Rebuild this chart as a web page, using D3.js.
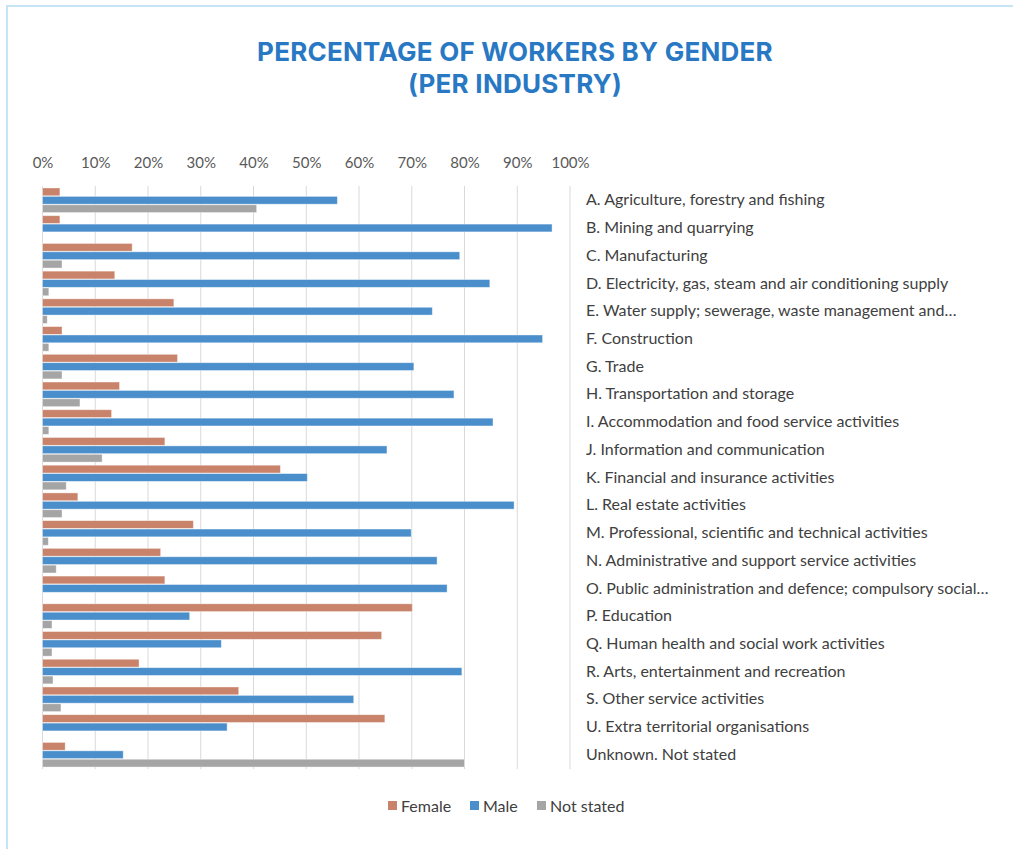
<!DOCTYPE html>
<html>
<head>
<meta charset="utf-8">
<script src="https://cdn.jsdelivr.net/npm/d3@7"></script>
<style>
  html, body { margin: 0; padding: 0; background: #fff; }
  svg { display: block; }
</style>
</head>
<body>
<svg id="chart" width="1013" height="849"></svg>
<script>
const industries = [
  "A. Agriculture, forestry and fishing",
  "B. Mining and quarrying",
  "C. Manufacturing",
  "D. Electricity, gas, steam and air conditioning supply",
  "E. Water supply; sewerage, waste management and…",
  "F. Construction",
  "G. Trade",
  "H. Transportation and storage",
  "I. Accommodation and food service activities",
  "J. Information and communication",
  "K. Financial and insurance activities",
  "L. Real estate activities",
  "M. Professional, scientific and technical activities",
  "N. Administrative and support service activities",
  "O. Public administration and defence; compulsory social…",
  "P. Education",
  "Q. Human health and social work activities",
  "R. Arts, entertainment and recreation",
  "S. Other service activities",
  "U. Extra territorial organisations",
  "Unknown. Not stated"
];

// percent values
const female    = [3.3, 3.3, 17.0, 13.7, 24.9, 3.7, 25.6, 14.6, 13.1, 23.2, 45.1, 6.7, 28.6, 22.4, 23.2, 70.1, 64.3, 18.3, 37.2, 64.9, 4.3];
const male      = [55.9, 96.6, 79.1, 84.8, 73.9, 94.8, 70.4, 78.0, 85.4, 65.3, 50.2, 89.4, 69.9, 74.8, 76.7, 27.9, 33.9, 79.5, 59.0, 35.0, 15.3];
const notStated = [40.6, 0, 3.7, 1.2, 0.9, 1.2, 3.7, 7.1, 1.2, 11.3, 4.5, 3.7, 1.1, 2.6, 0, 1.8, 1.8, 2.0, 3.5, 0, 80.0];

const seriesNames = ["Female", "Male", "Not stated"];
const seriesColors = ["#c9836a", "#4a8fcb", "#a5a5a5"];
const ticks = [0, 10, 20, 30, 40, 50, 60, 70, 80, 90, 100];

const svg = d3.select("#chart");

const plot = {left: 42.5, right: 570, top: 186, bottom: 769};

// light blue frame
svg.append("path")
  .attr("d", `M7,849 V6 H1013`)
  .attr("fill", "none")
  .attr("stroke", "#c7e4f6")
  .attr("stroke-width", 2);

// title
const title = svg.append("text")
  .attr("text-anchor", "middle")
  .attr("fill", "#2878c4")
  .attr("font-family", "Inter, Roboto, sans-serif")
  .attr("font-weight", 700)
  .attr("font-size", 26)
  .attr("letter-spacing", 0.25);
title.append("tspan").attr("x", 515).attr("y", 61).text("PERCENTAGE OF WORKERS BY GENDER");
title.append("tspan").attr("x", 515).attr("y", 93).text("(PER INDUSTRY)");

const x = d3.scaleLinear().domain([0, 100]).range([plot.left, plot.right]);
const y = d3.scaleBand().domain(industries).range([plot.top, plot.bottom])
  .paddingInner(0.09).paddingOuter(0.06);
const ySub = d3.scaleBand().domain(seriesNames).range([0, y.bandwidth()]);

// gridlines
svg.append("g")
  .selectAll("line")
  .data(ticks)
  .join("line")
  .attr("x1", d => x(d)).attr("x2", d => x(d))
  .attr("y1", plot.top).attr("y2", plot.bottom)
  .attr("stroke", "#d9d9d9")
  .attr("stroke-width", 1);

// top axis labels
const xAxis = d3.axisTop(x).tickValues(ticks).tickFormat(d => d + "%").tickSize(0).tickPadding(0);
const gx = svg.append("g").attr("transform", `translate(0,168)`).call(xAxis);
gx.select(".domain").remove();
gx.selectAll("text")
  .attr("fill", "#595959")
  .attr("font-family", "Lato, 'Open Sans', sans-serif")
  .attr("font-size", 15);

// bars
const rows = industries.map((name, i) => ({name, values: [female[i], male[i], notStated[i]]}));
const groups = svg.append("g")
  .selectAll("g")
  .data(rows)
  .join("g")
  .attr("transform", d => `translate(0,${y(d.name)})`);

groups.selectAll("rect")
  .data(d => d.values.map((v, j) => ({v, j})))
  .join("rect")
  .filter(d => d.v > 0)
  .attr("x", x(0))
  .attr("y", d => ySub(seriesNames[d.j]) + 0.3)
  .attr("width", d => x(d.v) - x(0))
  .attr("height", ySub.bandwidth() - 0.6)
  .attr("fill", d => seriesColors[d.j])
  .attr("stroke", "#ffffff")
  .attr("stroke-opacity", 0.5)
  .attr("stroke-width", 0.8);

// category labels on the right
const yAxis = d3.axisRight(y).tickSize(0).tickPadding(16);
const gy = svg.append("g").attr("transform", `translate(${plot.right},0)`).call(yAxis);
gy.select(".domain").remove();
gy.selectAll("text")
  .attr("fill", "#404040")
  .attr("font-family", "Lato, 'Open Sans', sans-serif")
  .attr("font-size", 16);

// legend
const legendX = [388, 470, 537];
const legend = svg.append("g")
  .selectAll("g")
  .data(seriesNames)
  .join("g")
  .attr("transform", (d, i) => `translate(${legendX[i]},801)`);
legend.append("rect")
  .attr("width", 9).attr("height", 9)
  .attr("fill", (d, i) => seriesColors[i]);
legend.append("text")
  .attr("x", 13).attr("y", 5)
  .attr("dy", "0.35em")
  .attr("fill", "#404040")
  .attr("font-family", "Lato, 'Open Sans', sans-serif")
  .attr("font-size", 16)
  .text(d => d);
</script>
</body>
</html>
